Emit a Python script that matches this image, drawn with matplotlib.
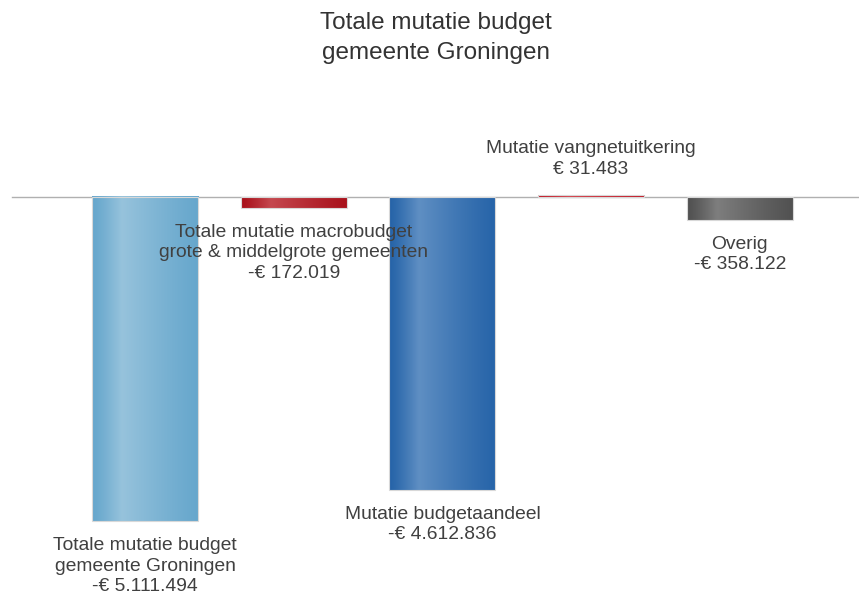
import matplotlib.pyplot as plt
import numpy as np
from matplotlib.colors import to_rgb

plt.rcParams['font.family'] = ['Liberation Sans', 'DejaVu Sans']

# gegevens
labels = [
    "Totale mutatie budget\ngemeente Groningen",
    "Totale mutatie macrobudget\ngrote & middelgrote gemeenten",
    "Mutatie budgetaandeel",
    "Mutatie vangnetuitkering",
    "Overig",
]
values = [-5111494, -172019, -4612836, 31483, -358122]
edge_colors = ["#65a6cc", "#a8101a", "#2563a8", "#c00d1c", "#505050"]
light_colors = ["#97c3dc", "#c5484f", "#5f8fc3", "#d63a44", "#7e7e7e"]


def euro(v):
    s = f"{abs(v):,}".replace(",", ".")
    return ("-€ " if v < 0 else "€ ") + s


fig = plt.figure(figsize=(8.59, 5.97), dpi=100)
ax = fig.add_axes([0, 0, 1, 1])

# schaal: 0 op pixel 197, ca. 15760 per pixel
per_px = 15760
ax.set_ylim(-(597 - 197) * per_px, 197 * per_px)
ax.set_xlim((0 - 145) / 148.7, (859 - 145) / 148.7)
ax.axis("off")

x = np.arange(len(values))
bars = ax.bar(x, values, width=0.713, color="none", edgecolor="none", zorder=2)

# horizontale gradient per staaf
t = np.linspace(0, 1, 200)
w = np.where(t < 0.28, t / 0.28, 1 - (t - 0.28) / 0.72 * 0.95)
w = np.clip(w, 0, 1) ** 1.2
for b, ec, lc in zip(bars, edge_colors, light_colors):
    c0 = np.array(to_rgb(ec))
    c1 = np.array(to_rgb(lc))
    grad = c0[None, :] * (1 - w[:, None]) + c1[None, :] * w[:, None]
    x0, y0 = b.get_x(), b.get_y()
    x1, y1 = x0 + b.get_width(), y0 + b.get_height()
    ax.imshow(grad[None, :, :], extent=[x0, x1, min(y0, y1), max(y0, y1)],
              aspect="auto", zorder=2, interpolation="bilinear")
    ax.add_patch(plt.Rectangle((x0, min(y0, y1)), b.get_width(), abs(b.get_height()),
                               fill=False, edgecolor="#d8d8d8", linewidth=0.8, zorder=3))

ax.set_aspect("auto")
ax.axhline(0, xmin=12 / 859, xmax=1, color="#b0b0b0", linewidth=1, zorder=1)

# labels bij de staven
for xi, v, lab in zip(x, values, labels):
    txt = lab + "\n" + euro(v)
    if v < 0:
        ax.annotate(txt, (xi, v), xytext=(0, -16), textcoords="offset pixels",
                    ha="center", va="top", fontsize=13.9, color="#404040",
                    linespacing=1.27, zorder=4)
    else:
        ax.annotate(txt, (xi, v), xytext=(0, 17), textcoords="offset pixels",
                    ha="center", va="bottom", fontsize=13.9, color="#404040",
                    linespacing=1.27, zorder=4)

fig.text(436 / 859, 1 - 12 / 597, "Totale mutatie budget\ngemeente Groningen", ha="center",
         va="top", fontsize=17.5, color="#333333", linespacing=1.45)

plt.savefig("out.png", dpi=100)
